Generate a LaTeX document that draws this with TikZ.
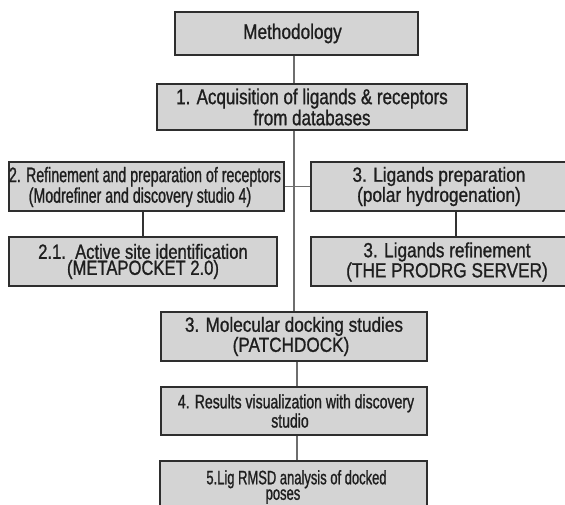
\documentclass[tikz,border=0pt]{standalone}
\usepackage{fontspec}
\setmainfont{Liberation Sans}
\newcommand\fsz[3]{\fontsize{#1}{#2}\selectfont\addfontfeature{FakeStretch=#3,FakeBold=1}}
\begin{document}
\begin{tikzpicture}[x=1pt,y=-1pt,
  box/.style={draw=boxline,line width=1.5pt,fill=boxfill,inner sep=0pt,align=center,text=textcol},
  txt/.style={inner sep=0pt,align=center,text=textcol},
  spineline/.style={draw=spinecol,line width=1.2pt},
  darkline/.style={draw=darkcol,line width=1.3pt}]
\definecolor{boxline}{HTML}{2E2E2E}
\definecolor{boxfill}{HTML}{D4D4D4}
\definecolor{textcol}{HTML}{1E1E1E}
\definecolor{spinecol}{HTML}{6E6E6E}
\definecolor{darkcol}{HTML}{333333}
\useasboundingbox[fill=white] (0,0) rectangle (565,505);
% boxes
\node[box,minimum width=243pt,minimum height=43pt] (meth) at (296.5,33.5)
  {\fsz{21}{22}{0.82}Methodology\hspace*{8pt}};
\node[box,minimum width=310pt,minimum height=46pt] (acq) at (312,107)
  {\fsz{21.5}{21}{0.79}1. Acquisition of ligands \& receptors\\ \fsz{21.5}{21}{0.79}from databases};
\node[box,minimum width=275pt,minimum height=49pt] (ref) at (146.5,186.5) {};
\node[txt] (reft) at (142.5,187)
  {\fsz{21}{23}{0.676}2. Refinement and preparation of receptors\hspace*{-5pt}\\ \fsz{21}{23}{0.676}(Modrefiner and discovery studio 4)\hspace*{5pt}};
\node[box,minimum width=256pt,minimum height=49pt] (ligp) at (439,186.5)
  {\fsz{20.5}{21}{0.84}3. Ligands preparation\\ \fsz{20.5}{21}{0.84}(polar hydrogenation)};
\node[box,minimum width=268pt,minimum height=49pt] (act) at (143,261.5)
  {\fsz{20.5}{21}{0.81}2.1.\ \ Active site identification\\ \fsz{20.5}{21}{0.81}(METAPOCKET 2.0)};
\node[box,minimum width=256pt,minimum height=49pt] (ligr) at (439,261.5) {};
\node[txt] (ligrt) at (447,262)
  {\fsz{20.5}{21}{0.84}3. Ligands refinement\\ \fsz{20.5}{21}{0.84}(THE PRODRG SERVER)};
\node[box,minimum width=266pt,minimum height=49pt] (dock) at (294,336.5)
  {\fsz{20.5}{20}{0.837}3. Molecular docking studies\\ \fsz{20.5}{20}{0.837}\hspace*{-6pt}(PATCHDOCK)};
\node[box,minimum width=266pt,minimum height=48pt] (res) at (294,411)
  {\fsz{19.5}{18.5}{0.72}\hspace*{4pt}4. Results visualization with discovery\\ \fsz{19.5}{18.5}{0.72}studio\hspace*{8pt}};
\node[box,minimum width=267pt,minimum height=60pt] (rmsd) at (293.5,491) {};
\node[txt] (rmsdt) at (290,487)
  {\fsz{19.5}{19}{0.665}5.Lig RMSD analysis of docked\hspace*{-13pt}\\ \fsz{19.5}{19}{0.665}poses\hspace*{14pt}};
% helper coordinates
\coordinate (spine) at (294,0);
\coordinate (spineb) at (297,0);
\coordinate (lcol) at (456,0);
% connectors
\draw[spineline] (meth.south -| spine) -- (acq.north -| spine);
\draw[spineline] (acq.south -| spine) -- (dock.north -| spine);
\draw[spineline] (ref.east) -- (ligp.west);
\draw[darkline] (act.north |- ref.south) -- (act.north);
\draw[darkline] (ligp.south -| lcol) -- (ligr.north -| lcol);
\draw[spineline] (dock.south -| spineb) -- (res.north -| spineb);
\draw[spineline] (res.south -| spineb) -- (rmsd.north -| spineb);
\end{tikzpicture}
\end{document}
